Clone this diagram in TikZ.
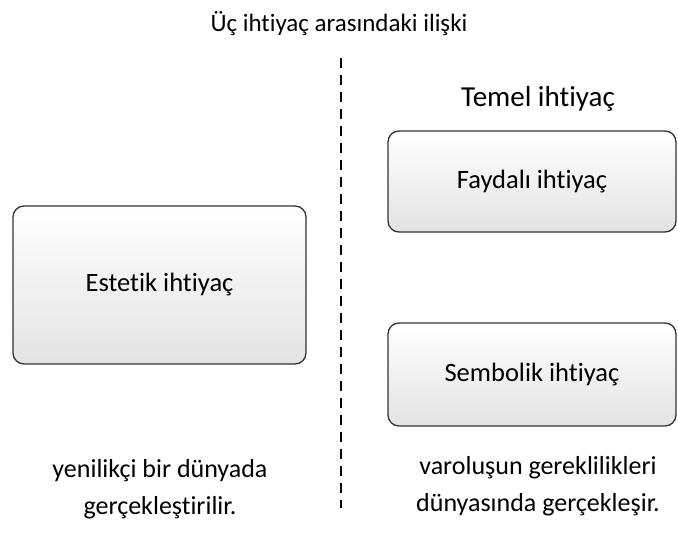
\documentclass[tikz,border=0pt]{standalone}
\usepackage{fontspec}
\setmainfont{Carlito}[RawFeature={-liga}]
\usepackage{tikz}
\usetikzlibrary{positioning}

\begin{document}
\begin{tikzpicture} [x=1pt, y=-1pt, thick,
                    kutu/.style={draw=black!80, line width=1.3pt, rounded corners=11pt, top color=white, bottom color=black!11, font=\fontsize{26.5}{30}\selectfont},
                    yazi/.style={align=center, font=\fontsize{26}{37}\selectfont}]
\useasboundingbox (0,0) rectangle (678,534);

\node (baslik) at (339,24) {\fontsize{25}{30}\selectfont Üç ihtiyaç arasındaki ilişki};
\node (temel) at (538,99) {\fontsize{29}{34}\selectfont Temel ihtiyaç};

\node[kutu, minimum width=293pt, minimum height=158pt] (estetik) at (159.5,285) {Estetik ihtiyaç};
\node[kutu, minimum width=288pt, minimum height=101pt] (faydali) at (532,181.5) {Faydalı ihtiyaç};
\node[kutu, minimum width=288pt, minimum height=103pt] (sembolik) at (532,374.5) {Sembolik ihtiyaç};

\node[yazi] (sol) at (160,489) {yenilikçi bir dünyada\\gerçekleştirilir.};
\node[yazi] (sag) at (538,486) {varoluşun gereklilikleri\\dünyasında gerçekleşir.};

 \coordinate (ust) at (341,58);
 \coordinate (alt) at (341,508);
 \draw[dash pattern=on 10pt off 7pt, line width=1.3pt] (ust) -- (alt);
\end{tikzpicture}
\end{document}
